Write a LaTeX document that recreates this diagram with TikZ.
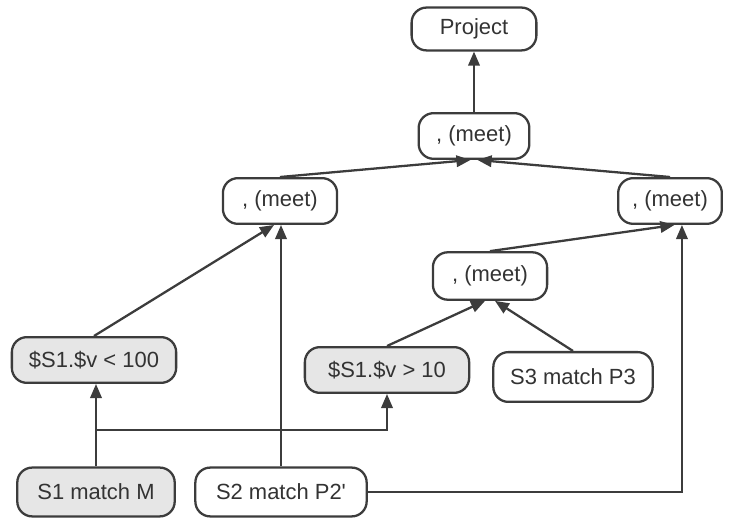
\documentclass[tikz,border=0pt]{standalone}
\usepackage{tikz,fontspec}
\usetikzlibrary{arrows.meta}
\setmainfont{Liberation Sans}
\definecolor{strek}{HTML}{3C3C3C}
\definecolor{lysgraa}{HTML}{E6E6E6}

\begin{document}
\begin{tikzpicture}[
    x=0.02cm, y=-0.02cm,
    punkt/.style = {rectangle, draw=strek, line width=1.3pt, rounded corners=8.5pt,
                    fill=white, text=black!80, inner sep=0pt,
                    minimum height=26pt},
    filter/.style = {punkt, fill=lysgraa},
    pil/.style = {strek, line width=1.3pt, -{Triangle[length=8pt,width=6.5pt]}},
    font=\fontsize{12.5}{15}\selectfont
    ]
    \useasboundingbox (0,0) rectangle (730,519);
    %nodes
    \node[punkt, minimum width=71pt, minimum height=24.4pt] (proj) at (474,29) {Project};
    \node[punkt, minimum width=63pt] (mt) at (474,136) {, (meet)};
    \node[punkt, minimum width=65pt] (ml) at (280,201) {, (meet)};
    \node[punkt, minimum width=59pt] (mr) at (670,201) {, (meet)};
    \node[punkt, minimum width=65pt, minimum height=27pt] (mm) at (490,276) {, (meet)};

    \node[filter, minimum width=93.5pt] (lt) at (94,360) {\$S1.\$v < 100};
    \node[filter, minimum width=93.5pt] (gt) at (387,370) {\$S1.\$v > 10};
    \node[punkt, minimum width=90.7pt, minimum height=28.3pt] (s3) at (573,377) {S3 match P3};

    \node[filter, minimum width=89.6pt, minimum height=27.8pt] (s1) at (96,492) {S1 match M};
    \node[punkt, minimum width=97.5pt, minimum height=27.8pt] (s2) at (281,492) {S2 match P2\textquotesingle};
    \coordinate (split) at (96,430);

    % edges
    \draw[pil] (mt) -- (proj);
    \draw[pil] (ml.north) -- ([xshift=-2pt]mt.south);
    \draw[pil] (mr.north) -- ([xshift=2pt]mt.south);
    \draw[pil] (lt.north) -- ([xshift=-3.4pt]ml.south);
    \draw[pil] (s2.north) -- (s2.north |- ml.south);
    \draw[pil] (s1.north) -- (s1.north |- lt.south);
    \draw[pil] (split) -| (gt.south);
    \draw[pil] (gt.north) -- ([xshift=-2.8pt]mm.south);
    \draw[pil] (s3.north) -- ([xshift=2.8pt]mm.south);
    \draw[pil] (mm.north) -- ([xshift=2.5pt]mr.south);
    \draw[pil] (s2.east) -| ([xshift=6.8pt]mr.south);
\end{tikzpicture}
\end{document}
